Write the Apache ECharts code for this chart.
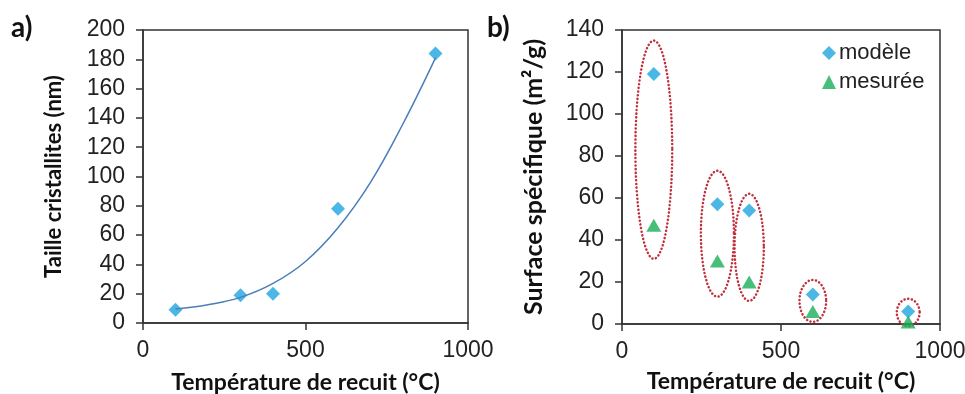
<!DOCTYPE html>
<html lang="fr">
<head>
<meta charset="UTF-8">
<title>Taille cristallites / Surface spécifique</title>
<script src="https://cdn.jsdelivr.net/npm/echarts@6/dist/echarts.min.js"></script>
</head>
<body style="margin:0">
<div id="main" style="width:965px;height:394px"></div>
<script>
// a) taille des cristallites
const tempA = [100, 300, 400, 600, 900];
const tailleA = [9, 19, 20, 78, 184];
// courbe de tendance
const trendX = [100, 200, 300, 400, 500, 600, 700, 800, 900];
const trendY = [9.5, 12.5, 17.5, 27, 42, 65, 96, 136, 181];

// b) surface spécifique
const tempB = [100, 300, 400, 600, 900];
const modele = [119, 57, 54, 14, 6];
const mesuree = [47, 30, 20, 6, 1];
// ellipses pointillées : [x, y bas, y haut, demi-largeur en °C]
const ellipses = [
    [100, 31, 135, 58],
    [300, 13, 73, 52],
    [400, 11, 62, 46],
    [600, 1, 21, 42],
    [900, -1, 12, 36]
];

const tickFont = {fontFamily: 'Liberation Sans', fontSize: 23, color: '#222'};
const axisLine = {lineStyle: {color: '#333', width: 1.5}};
const axisTick = {length: 7, lineStyle: {color: '#333', width: 1.5}};

const chart = echarts.init(document.getElementById('main'));

function xAxisOf(idx, gap) {
    return {
        type: 'value', gridIndex: idx, min: 0, max: 1000, interval: 500,
        name: 'Température de recuit (°C)', nameLocation: 'middle', nameGap: gap,
        nameTextStyle: {fontFamily: 'Lato', fontWeight: 'bold', fontSize: 23, color: '#111'},
        axisLine: axisLine, axisTick: axisTick,
        axisLabel: Object.assign({margin: 16, formatter: v => String(v)}, tickFont),
        splitLine: {show: false}
    };
}

chart.setOption({
    animation: false,
    graphic: [
        {type: 'text', left: 11, top: 14, style: {text: 'a)', font: 'bold 28px Lato', fill: '#111'}},
        {type: 'text', left: 487, top: 14, style: {text: 'b)', font: 'bold 28px Lato', fill: '#111'}}
    ],
    grid: [
        {left: 143, right: 497, top: 30, bottom: 71, outerBoundsMode: 'none', show: true, borderColor: '#333', borderWidth: 1.5},
        {left: 622, right: 25, top: 30, bottom: 70, outerBoundsMode: 'none', show: true, borderColor: '#333', borderWidth: 1.5}
    ],
    legend: {
        data: [{name: 'modèle', icon: 'diamond'}, {name: 'mesurée', icon: 'triangle'}],
        orient: 'vertical', left: 817, top: 37, itemWidth: 14, itemHeight: 14, itemGap: 7,
        textStyle: {fontFamily: 'Liberation Sans', fontSize: 22, color: '#222', padding: [0, 0, 0, -2]}
    },
    xAxis: [xAxisOf(0, 48), xAxisOf(1, 46)],
    yAxis: [
        {
            type: 'value', gridIndex: 0, min: 0, max: 200, interval: 20,
            name: 'Taille cristallites (nm)', nameLocation: 'middle', nameGap: 78,
            nameTextStyle: {fontFamily: 'Lato', fontWeight: 'bold', fontSize: 22, color: '#111'},
            axisLine: axisLine, axisTick: axisTick,
            axisLabel: Object.assign({margin: 18}, tickFont),
            splitLine: {show: false}
        },
        {
            type: 'value', gridIndex: 1, min: 0, max: 140, interval: 20,
            name: 'Surface spécifique (m²/g)', nameLocation: 'middle', nameGap: 76,
            nameTextStyle: {fontFamily: 'Lato', fontWeight: 'bold', fontSize: 25, color: '#111'},
            axisLine: axisLine, axisTick: axisTick,
            axisLabel: Object.assign({margin: 18}, tickFont),
            splitLine: {show: false}
        }
    ],
    series: [
        {
            type: 'line', xAxisIndex: 0, yAxisIndex: 0, smooth: 0.4, showSymbol: false,
            data: trendX.map((x, i) => [x, trendY[i]]),
            lineStyle: {color: '#4a7ebb', width: 1.5}
        },
        {
            type: 'scatter', xAxisIndex: 0, yAxisIndex: 0, symbol: 'diamond', symbolSize: 14,
            data: tempA.map((x, i) => [x, tailleA[i]]),
            itemStyle: {color: '#1ea5df'}
        },
        {
            type: 'custom', xAxisIndex: 1, yAxisIndex: 1, silent: true, clip: false,
            data: ellipses,
            renderItem: function (params, api) {
                const x = api.value(0), lo = api.value(1), hi = api.value(2), hw = api.value(3);
                const mid = (lo + hi) / 2;
                const c = api.coord([x, mid]);
                const top = api.coord([x, hi]);
                const side = api.coord([x + hw, mid]);
                const rx = side[0] - c[0], ry = c[1] - top[1];
                const pts = [];
                for (let k = 0; k < 72; k++) {
                    const t = k / 72 * Math.PI * 2;
                    pts.push([c[0] + rx * Math.cos(t), c[1] + ry * Math.sin(t)]);
                }
                return {
                    type: 'polygon', shape: {points: pts},
                    style: {fill: null, stroke: '#c0303c', lineWidth: 2.5, lineDash: [0.1, 3.6], lineCap: 'round'}
                };
            }
        },
        {
            name: 'modèle', type: 'scatter', xAxisIndex: 1, yAxisIndex: 1, symbol: 'diamond', symbolSize: 14,
            data: tempB.map((x, i) => [x, modele[i]]),
            itemStyle: {color: '#1ea5df'}, z: 3
        },
        {
            name: 'mesurée', type: 'scatter', xAxisIndex: 1, yAxisIndex: 1, symbol: 'triangle', symbolSize: [15, 13],
            data: tempB.map((x, i) => [x, mesuree[i]]),
            itemStyle: {color: '#1aae5a'}, z: 3
        }
    ]
});
</script>
</body>
</html>
